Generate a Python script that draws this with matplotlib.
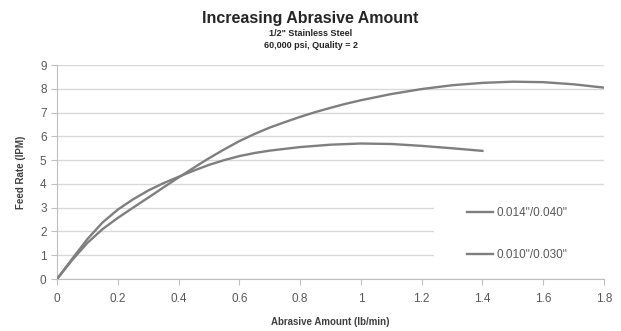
import numpy as np
import matplotlib.pyplot as plt
from matplotlib.patches import Rectangle

# abrasive feed (lb/min) vs. feed rate (IPM), two orifice/nozzle combos
x_014 = [0, 0.05, 0.1, 0.15, 0.2, 0.25, 0.3, 0.35, 0.4, 0.45, 0.5, 0.55,
         0.6, 0.65, 0.7, 0.75, 0.8, 0.85, 0.9, 0.95, 1.0, 1.1, 1.2, 1.3,
         1.4, 1.5, 1.6, 1.7, 1.8]
y_014 = [0, 0.8, 1.52, 2.1, 2.57, 3.0, 3.42, 3.85, 4.27, 4.68, 5.08, 5.45,
         5.8, 6.1, 6.37, 6.6, 6.82, 7.02, 7.2, 7.37, 7.52, 7.78, 7.99, 8.15,
         8.25, 8.3, 8.28, 8.19, 8.05]

x_010 = [0, 0.05, 0.1, 0.15, 0.2, 0.25, 0.3, 0.35, 0.4, 0.45, 0.5, 0.55,
         0.6, 0.65, 0.7, 0.8, 0.9, 1.0, 1.1, 1.2, 1.3, 1.4]
y_010 = [0, 0.85, 1.68, 2.38, 2.92, 3.35, 3.72, 4.03, 4.3, 4.56, 4.8, 5.0,
         5.17, 5.3, 5.4, 5.55, 5.65, 5.7, 5.68, 5.6, 5.5, 5.39]

labels = ['0.014"/0.040"', '0.010"/0.030"']
xticks = np.arange(0, 1.81, 0.2)
xticklabels = ['0', '0.2', '0.4', '0.6', '0.8', '1', '1.2', '1.4', '1.6', '1.8']

plt.rcParams['font.family'] = ['Liberation Sans', 'DejaVu Sans']

fig = plt.figure(figsize=(6.21, 3.31), dpi=100)
ax = fig.add_axes([0.0918, 0.157, 0.8808, 0.6465])

line_col = '#7f7f7f'
ax.plot(x_014, y_014, color=line_col, lw=1.7, label=labels[0], zorder=3,
        solid_joinstyle='round')
ax.plot(x_010, y_010, color=line_col, lw=1.7, label=labels[1], zorder=3,
        solid_joinstyle='round')

ax.set_xlim(0, 1.8)
ax.set_ylim(0, 9)
ax.set_xticks(xticks)
ax.set_xticklabels(xticklabels)
ax.set_yticks(range(0, 10))

ax.set_axisbelow(True)
ax.grid(axis='y', color='#d9d9d9', lw=1.0)
for s in ['top', 'right']:
    ax.spines[s].set_visible(False)
for s in ['left', 'bottom']:
    ax.spines[s].set_color('#bfbfbf')
ax.tick_params(colors='#bfbfbf', labelcolor='#595959', labelsize=8.5,
               length=4, direction='out')
ax.tick_params(axis='x', pad=6)

# white block behind the legend
ax.add_patch(Rectangle((0.69, 0.04), 0.35, 0.375, transform=ax.transAxes,
                       facecolor='white', edgecolor='none', zorder=1,
                       clip_on=False))
ax.legend(loc='upper left', bbox_to_anchor=(0.73, 0.385), frameon=False,
          fontsize=8.5, handlelength=2.2, handletextpad=0.3, labelspacing=2.5,
          labelcolor='#595959')

ax.set_xlabel('Abrasive Amount (lb/min)', fontsize=7, fontweight='bold',
              color='#404040', labelpad=9)
ax.set_ylabel('Feed Rate (IPM)', fontsize=7, fontweight='bold',
              color='#404040', labelpad=10)

fig.text(0.5, 0.945, 'Increasing Abrasive Amount', ha='center', va='center',
         fontsize=11.5, fontweight='bold', color='#262626')
fig.text(0.5, 0.898, '1/2" Stainless Steel', ha='center', va='center',
         fontsize=6.5, fontweight='bold', color='#262626')
fig.text(0.5, 0.863, '60,000 psi, Quality = 2', ha='center', va='center',
         fontsize=6.5, fontweight='bold', color='#262626')

fig.savefig('out.png', dpi=100)
